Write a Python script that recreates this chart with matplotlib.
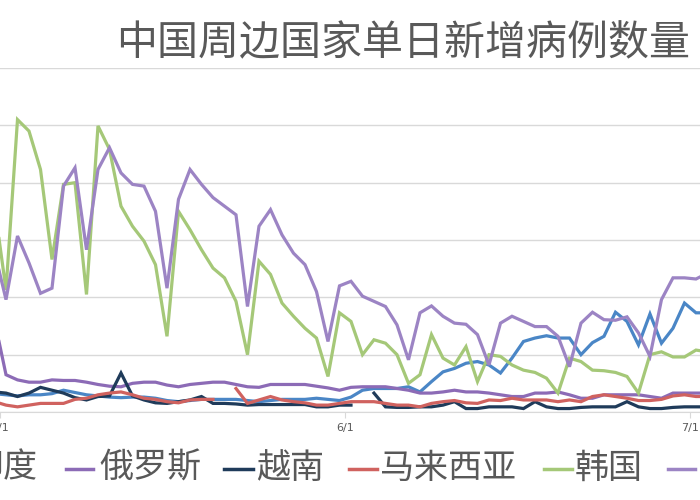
import numpy as np
import matplotlib
matplotlib.use("Agg")
import matplotlib.pyplot as plt
from matplotlib.lines import Line2D

plt.rcParams['font.family'] = ['Noto Sans CJK SC', 'DejaVu Sans']
nan = np.nan

names = ["印度", "俄罗斯", "越南", "马来西亚", "韩国", "日本"]
colors = ["#4a86c6", "#8c6bb6", "#1f3b5a", "#d0625f", "#a5c878", "#9c84c4"]
tick_labels = ["5/1", "6/1", "7/1"]

india = [0.32, 0.30,0.28,0.30,0.30,0.32,0.38,0.34,0.30,0.28,0.26,0.25,0.26,0.26,0.24,0.20,0.18,0.20,0.22,0.22,0.22,0.22,0.20,0.18,0.20,0.22,0.22,0.22,0.24,0.22,0.20,0.26,
         0.38,0.41,0.41,0.41,0.44,0.35,0.53,0.70,0.76,0.85,0.88,0.82,0.68,0.94,1.23,1.29,1.33,1.29,1.29,1.00,1.21,1.32,1.74,1.58,1.17,1.71,1.20,1.46,1.90,1.73,1.73]
russia = [1.6, 0.65,0.56,0.52,0.52,0.56,0.55,0.55,0.52,0.48,0.45,0.44,0.50,0.52,0.52,0.47,0.44,0.48,0.50,0.52,0.52,0.48,0.44,0.43,0.48,0.48,0.48,0.48,0.45,0.42,0.38,0.43,
          0.44,0.44,0.44,0.41,0.38,0.33,0.33,0.35,0.38,0.35,0.35,0.33,0.30,0.27,0.27,0.33,0.33,0.35,0.30,0.24,0.24,0.30,0.30,0.30,0.30,0.27,0.24,0.33,0.33,0.33,0.33]
vietnam = [0.35, 0.33,0.27,0.33,0.43,0.38,0.33,0.25,0.21,0.27,0.28,0.68,0.28,0.21,0.16,0.15,0.18,0.21,0.27,0.15,0.15,0.14,0.12,0.13,0.13,0.13,0.13,0.13,0.09,0.09,0.12,0.12,
           nan,0.33,0.09,0.08,0.08,0.09,0.09,0.12,0.18,0.06,0.06,0.09,0.09,0.09,0.06,0.18,0.09,0.06,0.06,0.08,0.09,0.09,0.09,0.18,0.09,0.06,0.06,0.08,0.09,0.09,0.09]
malaysia = [0.18, 0.12,0.09,0.12,0.15,0.15,0.15,0.22,0.24,0.30,0.33,0.35,0.30,0.24,0.22,0.18,0.16,0.21,0.22,0.22,nan,0.41,0.15,0.21,0.27,0.21,0.18,0.16,0.12,0.12,0.15,0.18,
            0.18,0.18,0.15,0.12,0.12,0.09,0.15,0.18,0.20,0.16,0.15,0.21,0.20,0.24,0.21,0.21,0.21,0.18,0.21,0.18,0.27,0.30,0.27,0.24,0.20,0.20,0.22,0.28,0.30,0.27,0.27]
korea = [3.6, 2.13,5.10,4.90,4.23,2.66,3.97,4.00,2.05,4.99,4.58,3.59,3.24,2.98,2.57,1.32,3.50,3.18,2.83,2.51,2.34,1.93,1.00,2.63,2.40,1.90,1.67,1.46,1.29,0.62,1.73,1.58,
         1.00,1.26,1.20,1.00,0.50,0.65,1.35,0.94,0.82,1.14,0.53,1.00,0.97,0.82,0.73,0.69,0.59,0.33,0.94,0.88,0.73,0.72,0.69,0.62,0.33,1.00,1.05,0.96,0.96,1.08,1.05]
japan = [2.8, 1.96,3.07,2.60,2.07,2.16,3.94,4.26,2.83,4.23,4.61,4.17,3.97,3.94,3.50,2.16,3.71,4.23,3.97,3.74,3.59,3.44,1.84,3.24,3.53,3.09,2.77,2.57,2.10,1.23,2.20,2.28,
         2.02,1.93,1.84,1.52,0.91,1.73,1.85,1.67,1.55,1.53,1.35,0.82,1.55,1.67,1.58,1.49,1.49,1.32,0.79,1.55,1.74,1.61,1.60,1.66,1.38,0.97,1.96,2.34,2.34,2.32,2.42]
series = [india, russia, vietnam, malaysia, korea, japan]

W, H = 700, 500
fig = plt.figure(figsize=(7, 5), dpi=100)
px = lambda x: x / W
py = lambda y: 1 - y / H

ax = fig.add_axes([0, py(412), 1, py(68) - py(412)])
days = np.arange(len(india))
for s, c in zip(series, colors):
    ax.plot(days, s, color=c, lw=2.3, solid_joinstyle='miter', clip_on=False)
ax.set_xlim(0.478, 61.35)
ax.set_ylim(0, 6)
ax.set_yticks(np.arange(0, 7))
ax.yaxis.grid(True, color="#d9d9d9", lw=1)
ax.set_axisbelow(True)
ax.tick_params(axis='y', length=0, labelleft=False)
for sp in ["top", "left", "right"]:
    ax.spines[sp].set_visible(False)
ax.spines["bottom"].set_color("#d9d9d9")
ax.set_xticks([0.5, 30.5, 60.5])
ax.set_xticklabels(tick_labels, fontsize=8, color="#595959", family="DejaVu Sans")
ax.tick_params(axis='x', length=4, color="#d9d9d9", pad=4)

fig.text(px(116), py(44), "中国周边国家单日新增病例数量", fontsize=29.5, color="#595959", va="center", ha="left")

leg = [(-90, -62, -30), (66, 93, 99), (224, 253, 256), (349, 377, 380), (544, 572, 575), (668, 695, 699)]
for (x0, x1, tx), n, c in zip(leg, names, colors):
    fig.add_artist(Line2D([px(x0), px(x1)], [py(469), py(469)], color=c, lw=2.5, transform=fig.transFigure))
    fig.text(px(tx), py(468), n, fontsize=24.5, color="#595959", va="center", ha="left")

fig.savefig("out.png", dpi=100)
